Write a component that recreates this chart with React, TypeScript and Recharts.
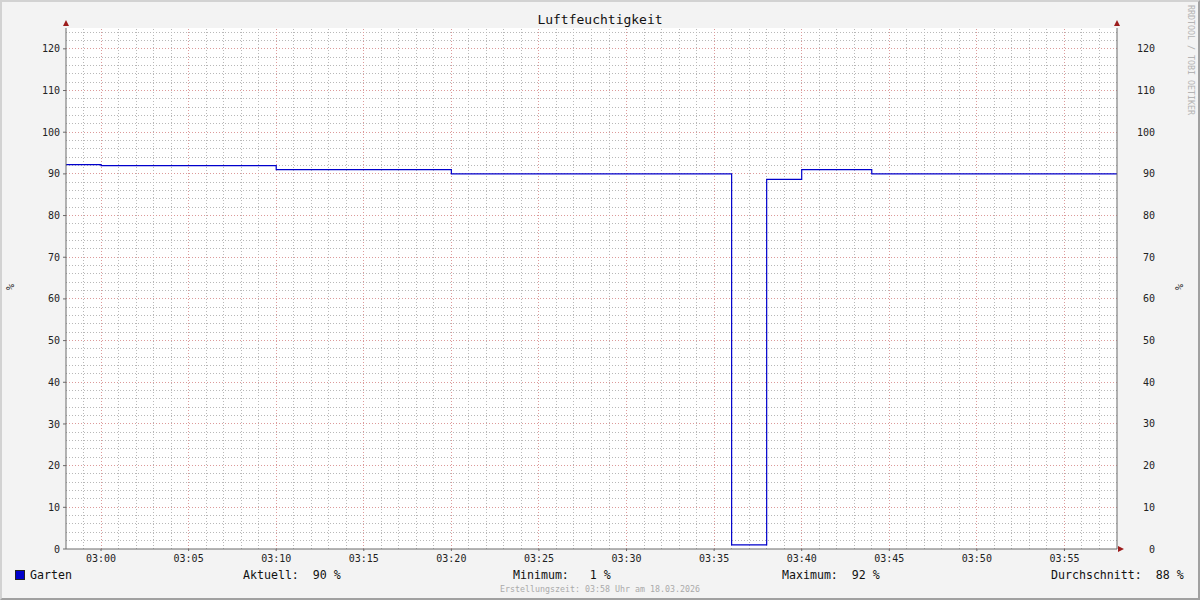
import React from 'react';
import { LineChart, Line, XAxis, YAxis, ReferenceLine } from 'recharts';

// humidity readings (step changes), time as HH:MM
const TIMES = ['02:58', '03:00', '03:10', '03:20', '03:36', '03:38', '03:40', '03:44', '03:58'];
const HUMIDITY = [92.2, 92.0, 91, 90, 1, 88.7, 91, 90, 90];

const X_TICKS = ['03:00', '03:05', '03:10', '03:15', '03:20', '03:25', '03:30', '03:35', '03:40', '03:45', '03:50', '03:55'];
const Y_TICKS = [0, 10, 20, 30, 40, 50, 60, 70, 80, 90, 100, 110, 120];

const LEGEND_STATS = [
  { label: 'Aktuell:  90 %', x: 243 },
  { label: 'Minimum:   1 %', x: 513 },
  { label: 'Maximum:  92 %', x: 782 },
  { label: 'Durchschnitt:  88 %', x: 1051 },
];

const toMin = (t: string) => {
  const [h, m] = t.split(':').map(Number);
  return h * 60 + m - 180;
};
const fmt = (m: number) => {
  const total = m + 180;
  const h = Math.floor(total / 60);
  const mm = total % 60;
  return `${String(h).padStart(2, '0')}:${String(mm).padStart(2, '0')}`;
};

const data = TIMES.map((t, i) => ({ t: toMin(t), v: HUMIDITY[i] }));

const X_DOMAIN: [number, number] = [-2, 58];
const Y_DOMAIN: [number, number] = [0, 125];

const minorX: number[] = [];
for (let m = -1; m < 58; m++) if (m % 5 !== 0) minorX.push(m);
const minorY: number[] = [];
for (let v = 2; v < 125; v += 2) if (v % 10 !== 0) minorY.push(v);

const FONT = '"DejaVu Sans Mono", monospace';
const MINOR = '#b8b8b8';
const MAJOR = '#dc9a9a';
const AXIS = '#6a6a6a';
const ARROW = '#9c1c1c';

// plot box (chart margins / axis widths below)
const PL = 66;
const PR = 1117;
const PT = 28;
const PB = 549;

const RightTick = (props: any) => {
  const { x, y, payload } = props;
  return (
    <text x={x + 38} y={y} dy="0.35em" textAnchor="end" fontFamily={FONT} fontSize={10} fill="#222">
      {payload.value}
    </text>
  );
};

export default function App() {
  return (
    <div style={{ position: 'absolute', left: 0, top: 0, width: 1200, height: 600, background: '#f3f3f3', overflow: 'hidden' }}>
      <LineChart width={1200} height={600} data={data} margin={{ top: PT, right: 0, bottom: 0, left: 0 }}>
        <rect x={PL} y={PT} width={PR - PL} height={PB - PT} fill="#fff" />
        <XAxis
          type="number"
          dataKey="t"
          domain={X_DOMAIN}
          allowDataOverflow
          ticks={X_TICKS.map(toMin)}
          tickFormatter={fmt}
          height={51}
          stroke={AXIS}
          tickSize={2}
          tickMargin={4}
          tick={{ fontFamily: FONT, fontSize: 10, fill: '#222' }}
        />
        <YAxis
          yAxisId="left"
          domain={Y_DOMAIN}
          allowDataOverflow
          ticks={Y_TICKS}
          width={66}
          stroke={AXIS}
          tickSize={3}
          tickMargin={3}
          tick={{ fontFamily: FONT, fontSize: 10, fill: '#222' }}
        />
        <YAxis
          yAxisId="right"
          orientation="right"
          domain={Y_DOMAIN}
          allowDataOverflow
          ticks={Y_TICKS}
          width={83}
          stroke={AXIS}
          tickSize={0}
          tickMargin={0}
          tick={<RightTick />}
        />
        {minorY.map((v) => (
          <ReferenceLine key={'my' + v} yAxisId="left" y={v} stroke={MINOR} strokeDasharray="1 2" shapeRendering="crispEdges" />
        ))}
        {minorX.map((m) => (
          <ReferenceLine key={'mx' + m} yAxisId="left" x={m} stroke={MINOR} strokeDasharray="1 2" shapeRendering="crispEdges" />
        ))}
        {Y_TICKS.filter((v) => v > 0).map((v) => (
          <ReferenceLine key={'Y' + v} yAxisId="left" y={v} stroke={MAJOR} strokeDasharray="1 2" shapeRendering="crispEdges" />
        ))}
        {X_TICKS.map(toMin).map((m) => (
          <ReferenceLine key={'X' + m} yAxisId="left" x={m} stroke={MAJOR} strokeDasharray="1 2" shapeRendering="crispEdges" />
        ))}
        <Line
          yAxisId="left"
          type="stepAfter"
          dataKey="v"
          stroke="#0000cc"
          strokeWidth={1.2}
          dot={false}
          activeDot={false}
          isAnimationActive={false}
        />
      </LineChart>

      <svg width={1200} height={600} style={{ position: 'absolute', left: 0, top: 0, pointerEvents: 'none' }}>
        {/* axis arrows */}
        <polygon points={`${PL - 3},${PT - 2} ${PL + 3},${PT - 2} ${PL},${PT - 8}`} fill={ARROW} />
        <polygon points={`${PR - 3},${PT - 2} ${PR + 3},${PT - 2} ${PR},${PT - 8}`} fill={ARROW} />
        <polygon points={`${PR + 1},${PB - 3} ${PR + 1},${PB + 3} ${PR + 7},${PB}`} fill={ARROW} />

        <text x={600} y={24} textAnchor="middle" fontFamily={FONT} fontSize={13} fill="#111">
          Luftfeuchtigkeit
        </text>
        <text x={0} y={0} transform="translate(14,287) rotate(-90)" textAnchor="middle" fontFamily={FONT} fontSize={10} fill="#222">
          %
        </text>
        <text x={0} y={0} transform="translate(1183,287) rotate(-90)" textAnchor="middle" fontFamily={FONT} fontSize={10} fill="#222">
          %
        </text>
        <text x={0} y={0} transform="translate(1188,5) rotate(90)" textAnchor="start" fontFamily={FONT} fontSize={8.3} fill="#b4b4b4">
          RRDTOOL / TOBI OETIKER
        </text>

        <rect x={15.5} y={570.5} width={9} height={9} fill="#0000cc" stroke="#222" strokeWidth={1} />
        <text x={30} y={579} fontFamily={FONT} fontSize={11.6} fill="#111">Garten</text>
        {LEGEND_STATS.map((s) => (
          <text key={s.label} x={s.x} y={579} fontFamily={FONT} fontSize={11.6} fill="#111" style={{ whiteSpace: 'pre' }} xmlSpace="preserve">
            {s.label}
          </text>
        ))}
        <text x={600} y={592} textAnchor="middle" fontFamily={FONT} fontSize={8.3} fill="#aaa">
          Erstellungszeit: 03:58 Uhr am 18.03.2026
        </text>
      </svg>

      <div
        style={{
          position: 'absolute',
          left: 0,
          top: 0,
          width: 1200,
          height: 600,
          boxSizing: 'border-box',
          borderTop: '2px solid #d2d2d2',
          borderLeft: '2px solid #d2d2d2',
          borderBottom: '2px solid #a0a0a0',
          borderRight: '2px solid #a0a0a0',
          pointerEvents: 'none',
        }}
      />
    </div>
  );
}
